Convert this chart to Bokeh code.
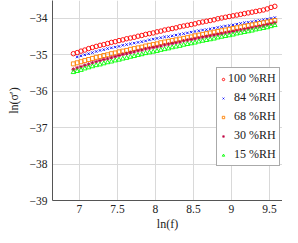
from bokeh.plotting import figure
from bokeh.models import Range1d, FixedTicker, Legend, LegendItem, CustomJSTickFormatter
from bokeh.embed import file_html
from bokeh.resources import INLINE

# ln(f) sampling points
ln_f = [6.92, 6.97, 7.02, 7.07, 7.12, 7.17, 7.22, 7.27, 7.32, 7.37, 7.42, 7.47, 7.52, 7.57,
        7.62, 7.67, 7.72, 7.77, 7.82, 7.87, 7.92, 7.97, 8.02, 8.07, 8.12, 8.17, 8.22, 8.27,
        8.32, 8.37, 8.42, 8.47, 8.52, 8.57, 8.62, 8.67, 8.72, 8.77, 8.82, 8.87, 8.92, 8.97,
        9.02, 9.07, 9.12, 9.17, 9.22, 9.27, 9.32, 9.37, 9.42, 9.47, 9.52, 9.57]

rh100 = [-34.97, -34.94, -34.90, -34.87, -34.83, -34.80, -34.77, -34.74, -34.72, -34.69,
         -34.66, -34.64, -34.61, -34.59, -34.56, -34.54, -34.52, -34.49, -34.47, -34.44,
         -34.42, -34.40, -34.37, -34.35, -34.32, -34.30, -34.28, -34.26, -34.23, -34.21,
         -34.19, -34.17, -34.15, -34.12, -34.10, -34.08, -34.06, -34.04, -34.01, -33.99,
         -33.97, -33.95, -33.93, -33.91, -33.89, -33.87, -33.85, -33.83, -33.81, -33.79,
         -33.77, -33.74, -33.70, -33.67]

# 84 %RH starts at the second sampling point
rh84 = [-35.06, -35.03, -35.00, -34.97, -34.94, -34.91, -34.88, -34.86, -34.83,
        -34.81, -34.79, -34.77, -34.74, -34.72, -34.70, -34.68, -34.66, -34.64, -34.62,
        -34.59, -34.57, -34.55, -34.53, -34.51, -34.50, -34.48, -34.46, -34.44, -34.42,
        -34.40, -34.38, -34.36, -34.34, -34.32, -34.31, -34.29, -34.27, -34.25, -34.23,
        -34.21, -34.20, -34.18, -34.16, -34.14, -34.12, -34.11, -34.09, -34.07, -34.06,
        -34.04, -34.02, -34.00, -33.98]

rh68 = [-35.25, -35.22, -35.19, -35.16, -35.13, -35.10, -35.07, -35.05, -35.02, -35.00,
        -34.97, -34.95, -34.92, -34.90, -34.88, -34.85, -34.83, -34.81, -34.79, -34.76,
        -34.74, -34.72, -34.70, -34.67, -34.65, -34.63, -34.61, -34.59, -34.57, -34.55,
        -34.53, -34.51, -34.48, -34.46, -34.44, -34.42, -34.40, -34.38, -34.36, -34.34,
        -34.32, -34.30, -34.28, -34.26, -34.24, -34.22, -34.20, -34.18, -34.16, -34.14,
        -34.12, -34.10, -34.08, -34.06]

rh30 = [-35.40, -35.36, -35.33, -35.29, -35.26, -35.22, -35.19, -35.16, -35.13, -35.11,
        -35.08, -35.05, -35.02, -34.99, -34.97, -34.94, -34.92, -34.89, -34.87, -34.84,
        -34.82, -34.80, -34.78, -34.76, -34.73, -34.71, -34.69, -34.67, -34.65, -34.62,
        -34.60, -34.58, -34.56, -34.54, -34.52, -34.50, -34.48, -34.46, -34.44, -34.42,
        -34.40, -34.38, -34.36, -34.34, -34.32, -34.30, -34.28, -34.26, -34.24, -34.22,
        -34.20, -34.17, -34.15, -34.12]

rh15 = [-35.48, -35.45, -35.42, -35.38, -35.35, -35.32, -35.29, -35.27, -35.24, -35.21,
        -35.19, -35.16, -35.14, -35.11, -35.09, -35.06, -35.04, -35.01, -34.99, -34.96,
        -34.94, -34.92, -34.90, -34.87, -34.85, -34.83, -34.80, -34.78, -34.76, -34.73,
        -34.71, -34.69, -34.67, -34.64, -34.62, -34.60, -34.58, -34.56, -34.53, -34.51,
        -34.49, -34.47, -34.45, -34.42, -34.40, -34.38, -34.36, -34.34, -34.31, -34.29,
        -34.27, -34.25, -34.22, -34.19]

legend_labels = ["100 %RH", "\u200284 %RH", "\u200268 %RH", "\u200230 %RH", "\u200215 %RH"]
x_ticks = [7, 7.5, 8, 8.5, 9, 9.5]
x_tick_labels = ["7", "7.5", "8", "8.5", "9", "9.5"]
y_ticks = [-39, -38, -37, -36, -35, -34]
y_tick_labels = ["\u221239", "\u221238", "\u221237", "\u221236", "\u221235", "\u221234"]

FONT = "Liberation Serif"
FMT_CODE = """
let best = -1, bd = 1e9;
for (let i = 0; i < tvals.length; i++) {
  const d = Math.abs(tvals[i] - tick);
  if (d < bd) { bd = d; best = i; }
}
return (best >= 0 && bd < 1e-6) ? tlabels[best] : String(tick);
"""

p = figure(frame_width=230, frame_height=200, output_backend="svg", toolbar_location=None,
           x_range=Range1d(6.645, 9.671), y_range=Range1d(-39, -33.51),
           min_border_left=52, min_border_right=0, min_border_top=0, min_border_bottom=27,
           background_fill_color="white", border_fill_color="white")
p.outline_line_color = None

p.axis.major_tick_out = 0
p.axis.major_tick_in = 0
p.axis.minor_tick_out = 0
p.axis.minor_tick_in = 0
p.axis.axis_line_color = "#555555"
p.axis.axis_line_width = 1
p.axis.major_label_text_font = FONT
p.axis.major_label_text_font_size = "11.5px"
p.axis.major_label_text_color = "#222222"
p.axis.axis_label_text_font = FONT
p.axis.axis_label_text_font_size = "12px"
p.axis.axis_label_text_font_style = "normal"
p.axis.axis_label_text_color = "#222222"

p.xaxis.ticker = FixedTicker(ticks=x_ticks)
p.yaxis.ticker = FixedTicker(ticks=y_ticks)
p.xaxis.formatter = CustomJSTickFormatter(args=dict(tvals=x_ticks, tlabels=x_tick_labels),
                                          code=FMT_CODE)
p.yaxis.formatter = CustomJSTickFormatter(args=dict(tvals=y_ticks, tlabels=y_tick_labels),
                                          code=FMT_CODE)
p.xaxis.axis_label = "ln(f)"
p.yaxis.axis_label = "ln(\u03c3\u2032)"
p.xaxis.major_label_standoff = 4
p.xaxis.axis_label_standoff = 1
p.yaxis.major_label_standoff = 5
p.yaxis.axis_label_standoff = 6

p.xgrid.grid_line_color = "#d9d9d9"
p.ygrid.grid_line_color = "#d9d9d9"
p.xgrid.grid_line_width = 1
p.ygrid.grid_line_width = 1

r1 = p.scatter(ln_f, rh100, marker="circle", size=4.5, fill_color=None,
               line_color="#ff0000", line_width=0.9)
r2 = p.scatter(ln_f[1:], rh84, marker="x", size=3.5, line_color="#0000ff", line_width=0.9)
r3 = p.scatter(ln_f, rh68, marker="square", size=4, fill_color=None,
               line_color="#ff8000", line_width=0.9)
r4 = p.scatter(ln_f, rh30, marker="asterisk", size=4, line_color="#bf0040", line_width=0.9)
r5 = p.scatter(ln_f, rh15, marker="triangle", size=4.5, fill_color=None,
               line_color="#00ff00", line_width=0.9)

items = [LegendItem(label=lab, renderers=[r]) for lab, r in
         zip(legend_labels, [r1, r2, r3, r4, r5])]
legend = Legend(items=items, location=(164, 34))
legend.label_text_font = FONT
legend.label_text_font_size = "12px"
legend.label_text_color = "#222222"
legend.border_line_color = "#555555"
legend.border_line_width = 1
legend.background_fill_color = "white"
legend.background_fill_alpha = 1.0
legend.padding = 3
legend.margin = 0
legend.spacing = 4
legend.glyph_width = 6
legend.glyph_height = 12
legend.label_height = 12
legend.label_standoff = 2
legend.label_text_baseline = "middle"
p.add_layout(legend)

open("out.html", "w").write(file_html(p, INLINE))
